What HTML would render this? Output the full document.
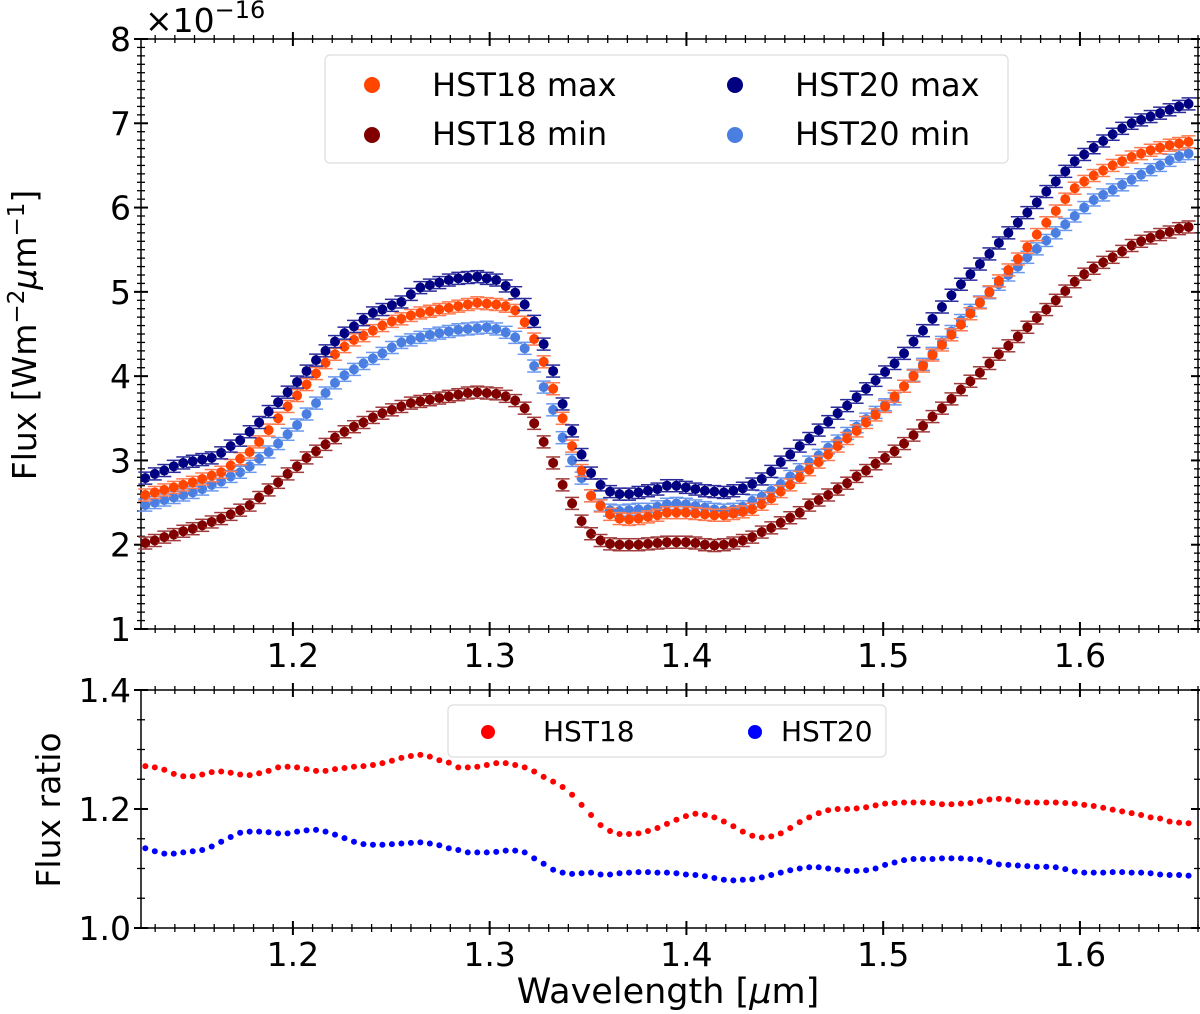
<!DOCTYPE html>
<html><head><meta charset="utf-8"><style>
html,body{margin:0;padding:0;background:#fff;}
svg{display:block;font-family:"DejaVu Sans","Liberation Sans",sans-serif;}
</style></head><body>
<svg id="chart" width="1200" height="1014" viewBox="0 0 1200 1014" xmlns="http://www.w3.org/2000/svg">
<g id="gtop"></g>
<g id="gbot"></g>
</svg>
<script>
const lamStart = 1.125, lamStep = 0.00482;
const hst20max = [2.79,2.84,2.88,2.93,2.97,2.99,3.01,3.03,3.09,3.17,
3.24,3.34,3.45,3.58,3.69,3.81,3.93,4.06,4.19,4.30,
4.41,4.51,4.59,4.67,4.75,4.79,4.84,4.88,4.97,5.05,
5.08,5.11,5.14,5.16,5.17,5.18,5.16,5.14,5.07,4.99,
4.85,4.65,4.38,4.06,3.67,3.35,3.07,2.85,2.71,2.63,
2.60,2.60,2.62,2.64,2.66,2.70,2.70,2.68,2.66,2.64,
2.63,2.62,2.64,2.67,2.72,2.78,2.87,2.98,3.07,3.17,
3.26,3.36,3.46,3.56,3.65,3.75,3.85,3.95,4.05,4.15,
4.27,4.41,4.54,4.68,4.82,4.96,5.09,5.21,5.33,5.45,
5.58,5.70,5.82,5.94,6.06,6.19,6.31,6.43,6.55,6.63,
6.71,6.79,6.87,6.94,7.00,7.04,7.08,7.12,7.16,7.20,
7.23];
const hst18max = [2.59,2.62,2.65,2.68,2.71,2.74,2.78,2.82,2.86,2.94,
3.02,3.10,3.22,3.36,3.50,3.64,3.77,3.90,4.03,4.16,
4.26,4.35,4.43,4.48,4.54,4.60,4.65,4.68,4.72,4.75,
4.77,4.79,4.81,4.83,4.85,4.87,4.86,4.85,4.83,4.78,
4.64,4.44,4.17,3.85,3.50,3.17,2.88,2.58,2.46,2.36,
2.31,2.30,2.31,2.33,2.35,2.38,2.38,2.38,2.37,2.36,
2.35,2.35,2.37,2.39,2.42,2.48,2.55,2.63,2.71,2.80,
2.89,2.98,3.07,3.17,3.26,3.35,3.45,3.54,3.64,3.76,
3.88,4.00,4.12,4.25,4.37,4.49,4.61,4.74,4.87,5.00,
5.13,5.26,5.39,5.53,5.68,5.82,5.96,6.10,6.23,6.31,
6.38,6.44,6.50,6.55,6.60,6.64,6.68,6.71,6.74,6.76,
6.78];
const hst20min = [2.47,2.50,2.53,2.56,2.59,2.62,2.66,2.71,2.75,2.81,
2.86,2.93,3.02,3.10,3.20,3.31,3.42,3.55,3.68,3.80,
3.92,4.01,4.08,4.15,4.21,4.27,4.34,4.40,4.43,4.46,
4.49,4.51,4.53,4.55,4.56,4.57,4.58,4.56,4.52,4.46,
4.33,4.12,3.87,3.60,3.27,3.00,2.79,2.58,2.47,2.41,
2.40,2.41,2.42,2.42,2.45,2.48,2.49,2.48,2.46,2.44,
2.42,2.41,2.42,2.45,2.52,2.57,2.64,2.72,2.81,2.89,
2.98,3.06,3.15,3.23,3.32,3.40,3.49,3.57,3.66,3.73,
3.88,4.01,4.14,4.27,4.40,4.53,4.66,4.78,4.88,4.99,
5.09,5.20,5.30,5.41,5.51,5.61,5.70,5.80,5.90,6.00,
6.09,6.15,6.21,6.27,6.33,6.39,6.45,6.50,6.56,6.61,
6.64];
const hst18min = [2.02,2.05,2.09,2.12,2.16,2.19,2.23,2.27,2.31,2.36,
2.41,2.47,2.56,2.65,2.74,2.84,2.93,3.03,3.11,3.19,
3.27,3.34,3.40,3.45,3.51,3.56,3.60,3.64,3.68,3.70,
3.72,3.74,3.76,3.78,3.80,3.81,3.80,3.79,3.76,3.71,
3.62,3.44,3.22,2.97,2.71,2.49,2.28,2.13,2.05,2.01,
2.00,2.00,2.00,2.01,2.02,2.03,2.03,2.03,2.02,2.00,
1.99,2.00,2.02,2.05,2.09,2.15,2.20,2.26,2.32,2.38,
2.47,2.53,2.59,2.66,2.73,2.81,2.88,2.96,3.03,3.11,
3.20,3.30,3.41,3.52,3.62,3.73,3.84,3.94,4.04,4.15,
4.26,4.36,4.47,4.58,4.69,4.79,4.90,5.01,5.12,5.21,
5.28,5.35,5.41,5.48,5.55,5.60,5.64,5.68,5.71,5.75,
5.77];
const ratio18 = [1.272,1.270,1.266,1.259,1.255,1.255,1.258,1.262,1.263,1.261,
1.258,1.257,1.260,1.264,1.270,1.271,1.270,1.267,1.264,1.264,
1.267,1.269,1.271,1.272,1.274,1.277,1.281,1.286,1.289,1.291,
1.288,1.282,1.278,1.270,1.270,1.271,1.274,1.277,1.277,1.274,
1.270,1.263,1.254,1.246,1.237,1.224,1.207,
1.190,1.173,1.163,1.158,1.158,1.159,1.163,1.168,1.175,1.182,
1.188,1.192,1.190,1.186,1.179,1.171,1.162,1.155,1.152,1.154,
1.159,1.168,1.178,1.186,1.193,1.198,1.200,1.200,1.201,1.203,
1.206,1.209,1.210,1.211,1.211,1.211,1.210,1.208,1.208,1.209,
1.210,1.213,1.216,1.217,1.216,1.213,1.211,1.211,1.211,1.211,
1.210,1.209,1.207,1.205,1.202,1.199,1.196,1.193,1.190,1.186,
1.184,1.179,1.177,1.176];
const ratio20 = [1.134,1.129,1.125,1.125,1.127,1.129,1.131,1.137,1.145,1.153,
1.160,1.162,1.162,1.161,1.159,1.159,1.162,1.164,1.165,1.162,
1.157,1.151,1.145,1.141,1.140,1.140,1.141,1.142,1.143,1.144,
1.142,1.139,1.134,1.131,1.127,1.127,1.127,1.128,1.130,1.130,
1.127,1.117,1.108,1.098,1.093,1.091,
1.092,1.093,1.090,1.090,1.092,1.093,1.094,1.094,1.093,1.093,
1.092,1.090,1.089,1.087,1.084,1.081,1.080,1.081,1.082,1.085,
1.089,1.093,1.097,1.100,1.102,1.102,1.100,1.098,1.096,1.096,
1.097,1.100,1.106,1.110,1.114,1.116,1.116,1.116,1.117,1.117,
1.117,1.116,1.115,1.111,1.107,1.106,1.105,1.104,1.103,1.103,
1.102,1.099,1.095,1.093,1.093,1.093,1.094,1.094,1.093,1.093,
1.092,1.090,1.089,1.089,1.088];
const xTickLabels = ["1.2","1.3","1.4","1.5","1.6"];
const yTopTickLabels = ["1","2","3","4","5","6","7","8"];
const yBotTickLabels = ["1.0","1.2","1.4"];

const NS="http://www.w3.org/2000/svg";
const L=141,R=1198,T1=39,B1=629,T2=690,B2=928;
const X0=1.1228,X1=1.6600;
const sx=v=>L+(v-X0)/(X1-X0)*(R-L);
const sy1=v=>B1-(v-1)/7*(B1-T1);
const sy2=v=>B2-(v-1)/0.4*(B2-T2);
function mk(tag,attrs,parent){const e=document.createElementNS(NS,tag);for(const k in attrs)e.setAttribute(k,attrs[k]);parent.appendChild(e);return e;}
const gTop=document.getElementById('gtop'), gBot=document.getElementById('gbot');

function axes(g,T,B,sy,yMin,yMax,yMajStep,yMinStep,yLabels,nameP){
  const fr=mk('rect',{x:L,y:T,width:R-L,height:B-T,fill:'none',stroke:'#000','stroke-width':1.5},g);
  
  
  for(let i=112;i<=166;i++){const v=i/100;const x=sx(v);if(x<L||x>R)continue;const maj=(i%10===0);const h=maj?7:4;
    mk('line',{x1:x,x2:x,y1:T-h,y2:T+h,stroke:'#000','stroke-width':maj?2:1.3},g);
    mk('line',{x1:x,x2:x,y1:B-h,y2:B+h,stroke:'#000','stroke-width':maj?2:1.3},g);}
  xTickLabels.forEach(s=>{const t=mk('text',{x:sx(parseFloat(s)),y:B+38,'text-anchor':'middle','font-size':33},g);t.textContent=s;
    
    });
  const n=Math.round((yMax-yMin)/yMinStep);
  for(let i=0;i<=n;i++){const v=yMin+i*yMinStep;const y=sy(v);const q=(v-yMin)/yMajStep;const maj=Math.abs(q-Math.round(q))<1e-6;const h=maj?7:4;
    mk('line',{x1:L-h,x2:L+h,y1:y,y2:y,stroke:'#000','stroke-width':maj?2:1.3},g);
    mk('line',{x1:R-h,x2:R+h,y1:y,y2:y,stroke:'#000','stroke-width':maj?2:1.3},g);}
  yLabels.forEach(s=>{const t=mk('text',{x:L-10,y:sy(parseFloat(s))+12,'text-anchor':'end','font-size':33},g);t.textContent=s;
    
    });
}
axes(gTop,T1,B1,sy1,1,8,1,0.1,yTopTickLabels,'flux');
axes(gBot,T2,B2,sy2,1.0,1.4,0.2,0.05,yBotTickLabels,'ratio');

function series(arr,col,capCol,name){
  const g=mk('g',{},gTop);
  
  
  arr.forEach((v,i)=>{const x=sx(lamStart+i*lamStep), y=sy1(v), e=6;
    mk('line',{x1:x,x2:x,y1:y-e,y2:y+e,stroke:capCol,'stroke-width':1.5},g);
    mk('line',{x1:x-7,x2:x+7,y1:y-e,y2:y-e,stroke:capCol,'stroke-width':1.5},g);
    mk('line',{x1:x-7,x2:x+7,y1:y+e,y2:y+e,stroke:capCol,'stroke-width':1.5},g);
    mk('circle',{cx:x,cy:y,r:5,fill:col},g);});
}
series(hst18min,'#800000','#a03a3a','hst18-min-series');
series(hst20min,'#4a7ee0','#6a98ee','hst20-min-series');
series(hst18max,'#ff4500','#ff7a50','hst18-max-series');
series(hst20max,'#000080','#2a2a9a','hst20-max-series');

function ratioSeries(arr,col,name){
  const g=mk('g',{},gBot);
  
  
  arr.forEach((v,i)=>{mk('circle',{cx:sx(lamStart+i*lamStep),cy:sy2(v),r:3,fill:col},g);});
}
ratioSeries(ratio18,'#ff0000','hst18-ratio-series');
ratioSeries(ratio20,'#0000ff','hst20-ratio-series');
</script>
<svg style="position:absolute;left:0;top:0" width="1200" height="1014" font-family="DejaVu Sans, Liberation Sans, sans-serif">
<text x="145" y="32" font-size="33">×10<tspan dy="-14" font-size="24">−16</tspan></text>
<text transform="translate(36,335) rotate(-90)" text-anchor="middle" font-size="33">Flux [Wm<tspan dy="-12" font-size="23">−2</tspan><tspan dy="12" font-style="italic">μ</tspan>m<tspan dy="-12" font-size="23">−1</tspan><tspan dy="12">]</tspan></text>
<text transform="translate(60,810) rotate(-90)" text-anchor="middle" font-size="33">Flux ratio</text>
<text x="668" y="1003" text-anchor="middle" font-size="35">Wavelength [<tspan font-style="italic">μ</tspan>m]</text>
<g>
<rect x="325" y="55" width="683" height="108" rx="5" fill="#fff" fill-opacity="0.85" stroke="#ddd" stroke-width="1.2"/>
<circle cx="372" cy="85" r="8" fill="#ff4500"/><text x="432" y="96" font-size="32">HST18 max</text>
<circle cx="372" cy="135" r="8" fill="#800000"/><text x="432" y="145" font-size="32">HST18 min</text>
<circle cx="735" cy="85" r="8" fill="#000080"/><text x="795" y="96" font-size="32">HST20 max</text>
<circle cx="735" cy="135" r="8" fill="#4a7ee0"/><text x="795" y="145" font-size="32">HST20 min</text>
</g>
<g>
<rect x="448" y="705" width="438" height="52" rx="5" fill="#fff" fill-opacity="0.85" stroke="#ddd" stroke-width="1.2"/>
<circle cx="488" cy="732" r="7" fill="#ff0000"/><text x="543" y="741" font-size="28">HST18</text>
<circle cx="755" cy="732" r="7" fill="#0000ff"/><text x="781" y="741" font-size="28">HST20</text>
</g>
</svg>
</body></html>
